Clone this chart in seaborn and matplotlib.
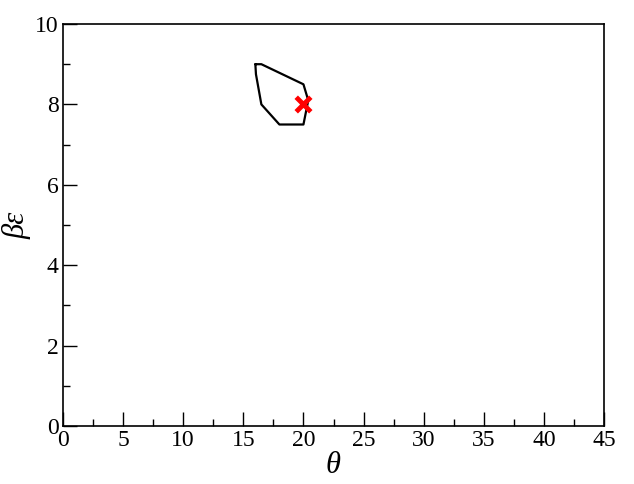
import matplotlib
matplotlib.use("Agg")
import matplotlib.pyplot as plt
import seaborn as sns
import pandas as pd
from matplotlib.ticker import MultipleLocator

# contour of the allowed region
theta_edge = [16.0, 16.5, 20.0, 20.4, 20.0, 18.0, 16.5, 16.05, 16.0]
beps_edge = [9.0, 9.0, 8.5, 8.1, 7.5, 7.5, 8.0, 8.75, 9.0]

# best point
theta_best = [20.0]
beps_best = [8.0]

sns.set_style("ticks")
plt.rcParams['font.family'] = 'serif'
plt.rcParams['font.serif'] = ['Liberation Serif', 'DejaVu Serif']
plt.rcParams['text.color'] = 'black'
plt.rcParams['axes.labelcolor'] = 'black'
plt.rcParams['xtick.color'] = 'black'
plt.rcParams['ytick.color'] = 'black'

fig = plt.figure(figsize=(6.34, 4.84), dpi=100)
ax = fig.add_axes([63/634, 58/484, 541/634, 402/484])

edge = pd.DataFrame({"theta": theta_edge, "beps": beps_edge})
best = pd.DataFrame({"theta": theta_best, "beps": beps_best})

sns.lineplot(data=edge, x="theta", y="beps", sort=False, estimator=None,
             color="black", linewidth=1.6, ax=ax)
sns.scatterplot(data=best, x="theta", y="beps", marker="x", color="red",
                s=110, linewidth=3.5, ax=ax, zorder=5)

ax.set_xlim(0, 45)
ax.set_ylim(0, 10)
ax.xaxis.set_major_locator(MultipleLocator(5))
ax.xaxis.set_minor_locator(MultipleLocator(2.5))
ax.yaxis.set_major_locator(MultipleLocator(2))
ax.yaxis.set_minor_locator(MultipleLocator(1))
ax.tick_params(which="both", direction="in", top=False, right=False,
               labelsize=17, pad=3, color="black", labelcolor="black")
ax.tick_params(which="major", length=10, width=1)
ax.tick_params(which="minor", length=5, width=1)
for sp in ax.spines.values():
    sp.set_visible(True)
    sp.set_linewidth(1.2)
    sp.set_color("black")

ax.set_xlabel("θ", fontsize=22, style="italic", labelpad=0)
ax.set_ylabel("βε", fontsize=22, style="italic")
ax.yaxis.set_label_coords(-0.058, 0.5)

plt.savefig("out.png", dpi=100)
